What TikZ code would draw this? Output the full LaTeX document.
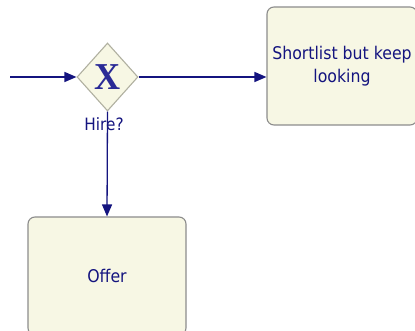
\documentclass[tikz,border=0pt]{standalone}
\usepackage{fontspec}
\setmainfont{DejaVu Sans Condensed}
\newfontfamily\markfont{Liberation Serif}
\usetikzlibrary{arrows.meta,shapes.geometric}
\definecolor{flowblue}{HTML}{14147F}
\definecolor{markblue}{HTML}{2A2A96}
\definecolor{boxfill}{HTML}{F7F7E4}
\definecolor{boxedge}{HTML}{8C8C8C}
\definecolor{gateedge}{HTML}{B0B0A0}
\tikzset{
  task/.style={draw=boxedge, line width=1.1pt, fill=boxfill, rounded corners=7pt,
    minimum width=150pt, minimum height=118pt, inner sep=0pt,
    align=center, text=flowblue, font=\fontsize{17.5}{23}\selectfont},
  gateway/.style={diamond, draw=gateedge, line width=1.1pt, fill=boxfill,
    minimum width=61pt, minimum height=68pt, inner sep=0pt},
  flow/.style={draw=flowblue, line width=1.3pt, -{Triangle[length=12pt,width=10pt]}},
  gatelabel/.style={text=flowblue, font=\fontsize{17}{20}\selectfont, inner sep=0pt}
}
\begin{document}
\begin{tikzpicture}[x=1pt,y=-1pt]
  \useasboundingbox (0,0) rectangle (415,331);
  \begin{scope}
    \clip (0,0) rectangle (415,331);
    % activities
    \node[task] (shortlist) at (342,66) {Shortlist but keep\\looking};
    \node[task, minimum width=158pt] (offer) at (107,276) {Offer};
    % exclusive gateway
    \node[gateway] (hire) at (107.5,77) {};
    \node[text=markblue, font=\markfont\bfseries\fontsize{38}{38}\selectfont, inner sep=0pt,
      xscale=0.95] (hiremark) at (hire.center) {X};
    \coordinate (start) at (10,77);
    % sequence flows
    \draw[flow] (start) -- (hire.west);
    \draw[flow] (hire.east) -- (shortlist.west |- hire.east);
    \draw[flow] (hire.south) -- (offer.north);
    \node[gatelabel] (hirelabel) at (104,124) {Hire?};
  \end{scope}
\end{tikzpicture}
\end{document}
